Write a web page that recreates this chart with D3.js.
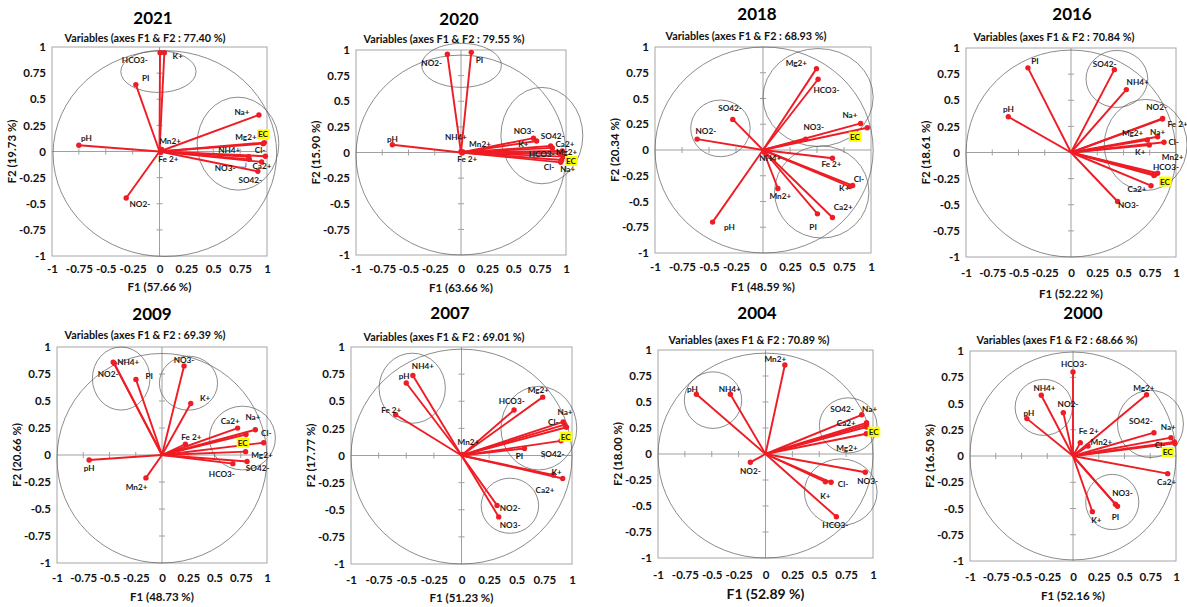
<!DOCTYPE html>
<html>
<head>
<meta charset="utf-8">
<script src="https://cdn.jsdelivr.net/npm/d3@7"></script>
<style>
  html, body { margin: 0; padding: 0; background: #fff; }
  svg { display: block; font-family: Lato, "Liberation Sans", sans-serif; font-weight: 700; }
</style>
</head>
<body>
<svg id="chart" width="1187" height="607"></svg>
<script>
// ---- values ---------------------------------------------------------------
const years  = ["2021", "2020", "2018", "2016", "2009", "2007", "2004", "2000"];
const f1Pct  = ["57.66", "63.66", "48.59", "52.22", "48.73", "51.23", "52.89", "52.16"];
const f2Pct  = ["19.73", "15.90", "20.34", "18.61", "20.66", "17.77", "18.00", "16.50"];
const sumPct = ["77.40", "79.55", "68.93", "70.84", "69.39", "69.01", "70.89", "68.66"];
const tickValues = [-1, -0.75, -0.5, -0.25, 0, 0.25, 0.5, 0.75, 1];

// variable loadings: [name, F1, F2]
const load2021 = [
  ["HCO3-", 0.005, 0.945], ["K+", 0.045, 0.945], ["PI", -0.22, 0.64], ["Na+", 0.925, 0.35],
  ["Mg2+", 0.965, 0.075], ["EC", 0.975, 0.085], ["Cl-", 0.985, -0.045], ["Ca2+", 0.95, -0.10],
  ["SO42-", 0.915, -0.19], ["NO3-", 0.835, -0.075], ["NH4+", 0.83, -0.05], ["Mn2+", 0.02, 0.02],
  ["Fe 2+", 0.01, -0.01], ["pH", -0.75, 0.06], ["NO2-", -0.31, -0.445]
];
const load2020 = [
  ["NO2-", -0.13, 0.958], ["PI", 0.098, 0.977], ["pH", -0.654, 0.076], ["NH4+", 0.0, 0.01],
  ["Mn2+", 0.02, 0.005], ["Fe 2+", 0.01, -0.005], ["NO3-", 0.69, 0.14], ["K+", 0.72, 0.112],
  ["SO42-", 0.854, 0.063], ["Ca2+", 0.87, 0.045], ["Mg2+", 0.965, 0.015], ["HCO3-", 0.94, -0.01],
  ["EC", 0.975, -0.04], ["Na+", 0.959, -0.073], ["Cl-", 0.95, -0.096]
];
const load2018 = [
  ["Mg2+", 0.495, 0.79], ["HCO3-", 0.51, 0.687], ["SO42-", -0.28, 0.297], ["NO2-", -0.61, 0.106],
  ["Na+", 0.904, 0.258], ["EC", 0.966, 0.216], ["NO3-", 0.395, 0.106], ["NH4+", 0.01, -0.02],
  ["Fe 2+", 0.643, -0.08], ["Cl-", 0.83, -0.345], ["K+", 0.805, -0.355], ["Mn2+", 0.138, -0.374],
  ["PI", 0.504, -0.62], ["Ca2+", 0.643, -0.655], ["pH", -0.467, -0.70]
];
const load2016 = [
  ["PI", -0.41, 0.81], ["pH", -0.597, 0.342], ["SO42-", 0.413, 0.793], ["NH4+", 0.527, 0.602],
  ["NO2-", 0.873, 0.327], ["Fe 2+", 0.87, 0.32], ["Na+", 0.825, 0.151], ["Mg2+", 0.727, 0.12],
  ["Cl-", 0.886, 0.098], ["K+", 0.746, 0.072], ["Mn2+", 0.825, -0.199], ["HCO3-", 0.79, -0.22],
  ["EC", 0.80, -0.21], ["Ca2+", 0.762, -0.318], ["NO3-", 0.444, -0.469]
];
const load2009 = [
  ["NH4+", -0.465, 0.86], ["NO2-", -0.455, 0.85], ["PI", -0.248, 0.70], ["NO3-", 0.21, 0.825],
  ["K+", 0.274, 0.477], ["Fe 2+", 0.223, 0.10], ["Ca2+", 0.72, 0.249], ["Na+", 0.889, 0.234],
  ["EC", 0.80, 0.19], ["Cl-", 0.968, 0.114], ["Mg2+", 0.796, 0.031], ["SO42-", 0.81, -0.06],
  ["HCO3-", 0.675, -0.08], ["pH", -0.694, -0.046], ["Mn2+", -0.153, -0.212]
];
const load2007 = [
  ["NH4+", -0.44, 0.738], ["pH", -0.5, 0.668], ["Fe 2+", -0.596, 0.375], ["HCO3-", 0.476, 0.42],
  ["Mg2+", 0.735, 0.538], ["Na+", 0.92, 0.31], ["Cl-", 0.935, 0.285], ["SO42-", 0.95, 0.26],
  ["EC", 0.90, 0.135], ["PI", 0.57, 0.065], ["Mn2+", 0.01, 0.01], ["K+", 0.83, -0.18],
  ["Ca2+", 0.916, -0.212], ["NO2-", 0.322, -0.46], ["NO3-", 0.337, -0.566]
];
const load2004 = [
  ["Mn2+", 0.18, 0.856], ["pH", -0.643, 0.575], ["NH4+", -0.327, 0.575], ["Na+", 0.895, 0.377],
  ["Ca2+", 0.94, 0.30], ["SO42-", 0.94, 0.28], ["EC", 0.94, 0.26], ["Mg2+", 0.938, 0.195],
  ["NO2-", -0.141, -0.08], ["NO3-", 0.928, -0.176], ["K+", 0.557, -0.268], ["Cl-", 0.61, -0.272],
  ["HCO3-", 0.659, -0.604]
];
const load2000 = [
  ["HCO3-", 0.0, 0.80], ["NH4+", -0.308, 0.578], ["NO2-", -0.094, 0.413], ["pH", -0.448, 0.356],
  ["Mg2+", 0.714, 0.584], ["SO42-", 0.786, 0.222], ["Na+", 0.951, 0.175], ["Cl-", 0.984, 0.133],
  ["EC", 0.99, 0.12], ["Fe 2+", 0.071, 0.127], ["Mn2+", 0.146, 0.095], ["Ca2+", 0.919, -0.168],
  ["NO3-", 0.412, -0.46], ["PI", 0.432, -0.479], ["K+", 0.188, -0.53]
];

// correlation circle first, then the hand-drawn variable groups: [cx, cy, rx, ry] in F1/F2 units
const rings2021 = [[0.05, -0.02, 1.04, 0.985], [-0.01, 0.765, 0.35, 0.2], [0.73, 0.075, 0.38, 0.445]];
const rings2020 = [[0, -0.025, 1.0, 0.975], [0.005, 0.85, 0.38, 0.215], [0.77, 0.165, 0.39, 0.47]];
const rings2018 = [[0.01, 0, 1.01, 1.0], [0.51, 0.51, 0.51, 0.475], [-0.394, 0.21, 0.275, 0.275], [0.544, -0.408, 0.437, 0.447]];
const rings2016 = [[0, -0.01, 1, 0.99], [0.437, 0.704, 0.294, 0.273], [0.711, 0.072, 0.394, 0.436]];
const rings2009 = [[0, -0.03, 1, 0.97], [-0.389, 0.708, 0.274, 0.292], [0.252, 0.665, 0.277, 0.25], [0.766, 0.157, 0.314, 0.295]];
const rings2007 = [[0, -0.01, 1, 0.99], [-0.446, 0.62, 0.30, 0.323], [0.70, 0.252, 0.343, 0.385], [0.438, -0.463, 0.26, 0.254]];
const rings2004 = [[0, -0.015, 1, 0.985], [-0.488, 0.518, 0.267, 0.272], [0.769, 0.275, 0.268, 0.265], [0.70, -0.367, 0.338, 0.32]];
const rings2000 = [[0, 0, 1, 0.99], [-0.284, 0.463, 0.278, 0.267], [0.752, 0.305, 0.32, 0.32], [0.381, -0.438, 0.258, 0.263]];

// ---- layout ---------------------------------------------------------------
// label anchors (text centres) in F1/F2 units
const labelSpots = [
  {"HCO3-": [-0.229, 0.878], "K+": [0.17, 0.91], "PI": [-0.129, 0.70], "Na+": [0.767, 0.374], "Mg2+": [0.804, 0.143],
   "EC": [0.963, 0.165], "NH4+": [0.649, 0.014], "Cl-": [0.935, 0.014], "NO3-": [0.611, -0.156], "Ca2+": [0.953, -0.14],
   "SO42-": [0.845, -0.268], "Mn2+": [0.098, 0.101], "Fe 2+": [0.082, -0.075], "pH": [-0.68, 0.133], "NO2-": [-0.182, -0.499]},
  {"NO2-": [-0.279, 0.876], "PI": [0.175, 0.902], "pH": [-0.654, 0.128], "NH4+": [-0.048, 0.148], "Mn2+": [0.181, 0.083],
   "Fe 2+": [0.06, -0.063], "NO3-": [0.60, 0.21], "K+": [0.594, 0.083], "SO42-": [0.873, 0.161], "Ca2+": [0.99, 0.083],
   "HCO3-": [0.768, -0.018], "Mg2+": [1.006, 0.008], "EC": [1.048, -0.083], "Cl-": [0.838, -0.145], "Na+": [1.016, -0.164]},
  {"Mg2+": [0.309, 0.848], "HCO3-": [0.588, 0.581], "SO42-": [-0.305, 0.403], "NO2-": [-0.529, 0.184], "Na+": [0.805, 0.339],
   "NO3-": [0.47, 0.226], "EC": [0.851, 0.129], "NH4+": [0.067, -0.081], "Fe 2+": [0.634, -0.135], "Cl-": [0.888, -0.284],
   "K+": [0.752, -0.365], "Mn2+": [0.16, -0.445], "Ca2+": [0.743, -0.555], "PI": [0.464, -0.752], "pH": [-0.312, -0.752]},
  {"PI": [-0.343, 0.873], "pH": [-0.597, 0.415], "SO42-": [0.321, 0.844], "NH4+": [0.635, 0.672], "NO2-": [0.816, 0.431],
   "Fe 2+": [1.016, 0.272], "Mg2+": [0.587, 0.183], "Na+": [0.825, 0.199], "Cl-": [0.978, 0.1], "K+": [0.66, 0.008],
   "Mn2+": [0.968, -0.046], "HCO3-": [0.905, -0.135], "EC": [0.895, -0.278], "Ca2+": [0.629, -0.351], "NO3-": [0.546, -0.501]},
  {"NH4+": [-0.322, 0.862], "NO2-": [-0.513, 0.748], "PI": [-0.121, 0.729], "NO3-": [0.21, 0.883], "K+": [0.411, 0.529],
   "Ca2+": [0.65, 0.314], "Na+": [0.866, 0.348], "Cl-": [0.994, 0.2], "EC": [0.768, 0.114], "Fe 2+": [0.28, 0.169],
   "Mg2+": [0.952, 0.0], "SO42-": [0.911, -0.123], "HCO3-": [0.57, -0.175], "pH": [-0.694, -0.123], "Mn2+": [-0.242, -0.292]},
  {"NH4+": [-0.349, 0.822], "pH": [-0.518, 0.729], "Fe 2+": [-0.636, 0.422], "HCO3-": [0.455, 0.498], "Mg2+": [0.696, 0.6],
   "Na+": [0.937, 0.40], "Cl-": [0.831, 0.305], "EC": [0.943, 0.175], "Mn2+": [0.063, 0.129], "PI": [0.524, -0.003],
   "SO42-": [0.825, 0.015], "K+": [0.861, -0.148], "Ca2+": [0.756, -0.317], "NO2-": [0.44, -0.486], "NO3-": [0.44, -0.64]},
  {"Mn2+": [0.091, 0.911], "pH": [-0.68, 0.629], "NH4+": [-0.333, 0.629], "SO42-": [0.712, 0.431], "Na+": [0.969, 0.431],
   "Ca2+": [0.752, 0.294], "EC": [1.006, 0.214], "Mg2+": [0.758, 0.054], "NO2-": [-0.141, -0.16], "NO3-": [0.95, -0.256],
   "Cl-": [0.721, -0.288], "K+": [0.557, -0.406], "HCO3-": [0.65, -0.68]},
  {"HCO3-": [0.01, 0.879], "NH4+": [-0.276, 0.651], "NO2-": [-0.049, 0.498], "pH": [-0.429, 0.413], "Mg2+": [0.688, 0.651],
   "SO42-": [0.659, 0.333], "Na+": [0.925, 0.276], "Cl-": [0.844, 0.108], "EC": [0.919, 0.038], "Fe 2+": [0.153, 0.238],
   "Mn2+": [0.276, 0.133], "Ca2+": [0.909, -0.248], "NO3-": [0.481, -0.349], "PI": [0.412, -0.581], "K+": [0.227, -0.606]}
];

// blue leader from the NO3- label in the 2021 plot
const leaders = [[[0.736, -0.15], [0.804, -0.15], [0.804, -0.107]], null, null, null, null, null, null, null];

// plot frames in pixels: [left, top, right, bottom]; text centres for title / subtitle
const frames = [
  {box: [52, 47, 267, 256],    title: [153, 17],   sub: [145, 37],   xTick: 13, xTitle: 30, xTitleSize: 11.5},
  {box: [356, 50, 566, 255],   title: [459, 18],   sub: [444, 38],   xTick: 14, xTitle: 32, xTitleSize: 11.5},
  {box: [655, 47, 871, 253],   title: [757, 13],   sub: [746, 35],   xTick: 14, xTitle: 33, xTitleSize: 11.5},
  {box: [966, 48, 1176, 257],  title: [1072, 13],  sub: [1054, 36],  xTick: 16, xTitle: 36, xTitleSize: 11.5},
  {box: [57, 347, 267, 563],   title: [152, 313],  sub: [145, 334],  xTick: 15, xTitle: 33, xTitleSize: 11.5},
  {box: [351, 347, 572, 564],  title: [450, 312],  sub: [444, 336],  xTick: 16, xTitle: 33, xTitleSize: 11.5},
  {box: [658, 350, 873, 558],  title: [757, 312],  sub: [749, 339],  xTick: 17, xTitle: 35, xTitleSize: 14},
  {box: [970, 351, 1176, 561], title: [1083, 312], sub: [1057, 339], xTick: 16, xTitle: 34, xTitleSize: 11.5}
];

const loads = [load2021, load2020, load2018, load2016, load2009, load2007, load2004, load2000];
const rings = [rings2021, rings2020, rings2018, rings2016, rings2009, rings2007, rings2004, rings2000];

const RED = "#ee1c24";
const svg = d3.select("#chart");

years.forEach((year, i) => {
  const f = frames[i];
  const [L, T, R, B] = f.box;
  const x = d3.scaleLinear().domain([-1, 1]).range([L, R]);
  const y = d3.scaleLinear().domain([-1, 1]).range([B, T]);
  const g = svg.append("g").attr("class", "panel-" + year);

  // frame
  g.append("rect").attr("x", L).attr("y", T).attr("width", R - L).attr("height", B - T)
    .attr("fill", "none").attr("stroke", "#a6a6a6").attr("stroke-width", 1);

  // tick labels on the frame
  const fmt = d => String(d);
  const bottom = g.append("g").attr("transform", `translate(0,${B})`)
    .call(d3.axisBottom(x).tickValues(tickValues).tickSize(0).tickPadding(f.xTick - 4).tickFormat(fmt));
  const left = g.append("g").attr("transform", `translate(${L},0)`)
    .call(d3.axisLeft(y).tickValues(tickValues).tickSize(0).tickPadding(6).tickFormat(fmt));
  [bottom, left].forEach(a => {
    a.attr("font-family", null).attr("font-size", null);
    a.select(".domain").remove();
    a.selectAll("text").attr("font-size", 11.5).attr("fill", "#111");
  });

  // axes through the origin with small cross ticks
  const axisCol = "#a0a0a0";
  g.append("line").attr("x1", L).attr("x2", R).attr("y1", y(0)).attr("y2", y(0)).attr("stroke", axisCol);
  g.append("line").attr("x1", x(0)).attr("x2", x(0)).attr("y1", T).attr("y2", B).attr("stroke", axisCol);
  const inner = tickValues.filter(v => v !== 0 && Math.abs(v) !== 1);
  g.selectAll(".xt").data(inner).join("line")
    .attr("x1", d => x(d)).attr("x2", d => x(d)).attr("y1", y(0) - 3).attr("y2", y(0) + 3).attr("stroke", axisCol);
  g.selectAll(".yt").data(inner).join("line")
    .attr("y1", d => y(d)).attr("y2", d => y(d)).attr("x1", x(0) - 3).attr("x2", x(0) + 3).attr("stroke", axisCol);

  // correlation circle and variable groups
  g.selectAll("ellipse").data(rings[i]).join("ellipse")
    .attr("cx", d => x(d[0])).attr("cy", d => y(d[1]))
    .attr("rx", d => x(d[2]) - x(0)).attr("ry", d => y(0) - y(d[3]))
    .attr("fill", "none").attr("stroke", "#5a5a5a").attr("stroke-width", 0.7);

  // loading vectors
  const data = loads[i];
  g.selectAll(".vec").data(data).join("line").attr("class", "vec")
    .attr("x1", x(0)).attr("y1", y(0)).attr("x2", d => x(d[1])).attr("y2", d => y(d[2]))
    .attr("stroke", RED).attr("stroke-width", 1.9);
  g.selectAll(".dot").data(data).join("circle").attr("class", "dot")
    .attr("cx", d => x(d[1])).attr("cy", d => y(d[2])).attr("r", 2.7).attr("fill", RED);

  if (leaders[i]) {
    g.append("path").attr("d", d3.line().x(d => x(d[0])).y(d => y(d[1]))(leaders[i]))
      .attr("fill", "none").attr("stroke", "#4472c4").attr("stroke-width", 1);
  }

  // variable labels
  const spots = labelSpots[i];
  data.forEach(d => {
    const p = spots[d[0]];
    const t = g.append("text").attr("x", x(p[0])).attr("y", y(p[1]))
      .attr("text-anchor", "middle").attr("dominant-baseline", "central")
      .attr("font-size", 8.2).attr("fill", "#1a1a1a").text(d[0]);
    if (d[0] === "EC") {
      const bb = t.node().getBBox();
      g.insert("rect", () => t.node())
        .attr("x", bb.x - 1).attr("y", bb.y).attr("width", bb.width + 2).attr("height", bb.height)
        .attr("fill", "#ffff00");
    }
  });

  // titles
  g.append("text").attr("x", f.title[0]).attr("y", f.title[1]).attr("text-anchor", "middle")
    .attr("dominant-baseline", "central").attr("font-size", 17).attr("fill", "#000").text(year);
  g.append("text").attr("x", f.sub[0]).attr("y", f.sub[1]).attr("text-anchor", "middle")
    .attr("dominant-baseline", "central").attr("font-size", 10.8).attr("fill", "#111")
    .text(`Variables (axes F1 & F2 : ${sumPct[i]} %)`);
  g.append("text").attr("x", (L + R) / 2).attr("y", B + f.xTitle).attr("text-anchor", "middle")
    .attr("dominant-baseline", "central").attr("font-size", f.xTitleSize).attr("fill", "#111")
    .text(`F1 (${f1Pct[i]} %)`);
  g.append("text").attr("transform", `translate(${L - 41},${(T + B) / 2}) rotate(-90)`)
    .attr("text-anchor", "middle").attr("dominant-baseline", "central")
    .attr("font-size", 11.5).attr("fill", "#111").text(`F2 (${f2Pct[i]} %)`);
});
</script>
</body>
</html>
